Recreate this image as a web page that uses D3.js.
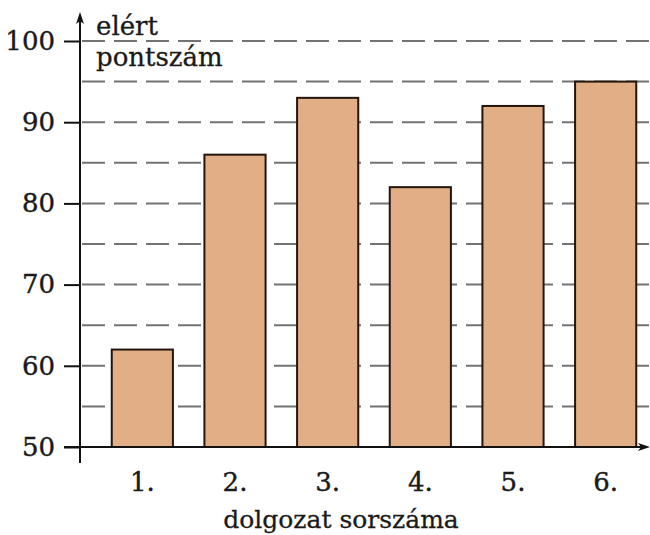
<!DOCTYPE html>
<html><head><meta charset="utf-8">
<script src="https://cdn.jsdelivr.net/npm/d3@7"></script>
<style>body{margin:0;background:#fff}svg{display:block}</style>
</head><body>
<script>
const categories = ["1.", "2.", "3.", "4.", "5.", "6."];
const values = [62, 86, 93, 82, 92, 95];
const majorTicks = [50, 60, 70, 80, 90, 100];
const gridValues = [55, 60, 65, 70, 75, 80, 85, 90, 95, 100];
const yTitle = ["elért", "pontszám"];
const xTitle = "dolgozat sorszáma";

const W = 650, H = 535;
const font = "DejaVu Serif";
const ink = "#1a1a1a";
const svg = d3.select("body").append("svg").attr("width", W).attr("height", H);

const y = d3.scaleLinear().domain([50, 100]).range([447, 41]);
const x = d3.scaleBand().domain(categories).range([96, 652]).paddingInner(0.34).paddingOuter(0.17);
const axX = 80;

// gridlines
svg.append("g").selectAll("line").data(gridValues).join("line")
  .attr("x1", axX).attr("x2", W).attr("y1", d => y(d)).attr("y2", d => y(d))
  .attr("stroke", "#737373").attr("stroke-width", 2).attr("stroke-dasharray", "23,9")
  .attr("stroke-dashoffset", -2);

// bars
svg.append("g").selectAll("rect").data(values).join("rect")
  .attr("x", (d, i) => x(categories[i])).attr("width", x.bandwidth())
  .attr("y", d => y(d)).attr("height", d => y(50) - y(d))
  .attr("fill", "#E2AE86").attr("stroke", "#24150c").attr("stroke-width", 2);

// y axis
const yAxis = d3.axisLeft(y).tickValues(majorTicks).tickSize(16).tickPadding(9);
const gy = svg.append("g").attr("transform", `translate(${axX},0)`).call(yAxis);
gy.select(".domain").remove();
gy.selectAll(".tick line").attr("stroke", "#111").attr("stroke-width", 2);
gy.selectAll(".tick text").style("font-family", font).style("font-size", "26px")
  .attr("fill", ink).attr("stroke", ink).attr("stroke-width", 0.4);

// y axis line with arrow
svg.append("line").attr("x1", axX).attr("x2", axX).attr("y1", 463).attr("y2", 17)
  .attr("stroke", "#111").attr("stroke-width", 2);
svg.append("path").attr("d", `M${axX},12 L${axX-4},24 L${axX},21 L${axX+4},24 Z`).attr("fill", "#111");

// x axis
const xAxis = d3.axisBottom(x).tickSize(0).tickPadding(26);
const gx = svg.append("g").attr("transform", `translate(0,${y(50)})`).call(xAxis);
gx.select(".domain").remove();
gx.selectAll(".tick text").style("font-family", font).style("font-size", "26px")
  .attr("fill", ink).attr("stroke", ink).attr("stroke-width", 0.4);
svg.append("line").attr("x1", 64).attr("x2", 645).attr("y1", y(50)).attr("y2", y(50))
  .attr("stroke", "#111").attr("stroke-width", 2);
svg.append("path").attr("d", `M650,${y(50)} L638,${y(50)-4} L641,${y(50)} L638,${y(50)+4} Z`).attr("fill", "#111");

// titles
const t = svg.append("text").style("font-family", font).style("font-size", "26px")
  .attr("fill", ink).attr("stroke", ink).attr("stroke-width", 0.3);
yTitle.forEach((s, i) => t.append("tspan").attr("x", 96).attr("y", 35 + i * 31).text(s));
svg.append("text").attr("x", 341).attr("y", 528).attr("text-anchor", "middle")
  .style("font-family", font).style("font-size", "25px")
  .attr("fill", ink).attr("stroke", ink).attr("stroke-width", 0.3).text(xTitle);
</script>
</body></html>
